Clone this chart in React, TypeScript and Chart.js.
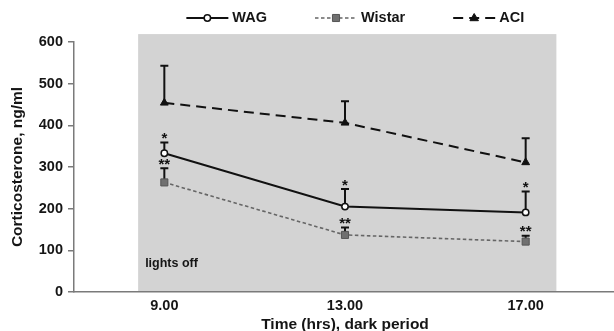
import React, { useEffect, useRef } from 'react';
import { Chart, registerables } from 'chart.js';

Chart.register(...registerables);

const categories = ['9.00', '13.00', '17.00'];
const seriesNames = ['WAG', 'Wistar', 'ACI'];
const wagValues = [333, 205, 191];
const wagErrors = [26, 42, 50];
const wagMarks = ['*', '*', '*'];
const wistarValues = [263, 137, 121];
const wistarErrors = [34, 18, 14];
const wistarMarks = ['**', '**', '**'];
const aciValues = [454, 406, 311];
const aciErrors = [89, 52, 58];
const aciMarks = ['', '', ''];
const yTicks = [0, 100, 200, 300, 400, 500, 600];
const xTitle = 'Time (hrs), dark period';
const yTitle = 'Corticosterone, ng/ml';
const shadeLabel = 'lights off';

const FONT = "'Liberation Sans', Arial, sans-serif";
const TEXT = '#151515';
const AXIS = '#7a7a7a';

const errorsBySeries = [wagErrors, wistarErrors, aciErrors];
const marksBySeries = [wagMarks, wistarMarks, aciMarks];

function drawMarker(ctx: CanvasRenderingContext2D, style: string, x: number, y: number, r: number, bg: string, border: string, bw: number) {
  ctx.save();
  ctx.setLineDash([]);
  ctx.fillStyle = bg;
  ctx.strokeStyle = border;
  ctx.lineWidth = bw;
  ctx.beginPath();
  if (style === 'circle') {
    ctx.arc(x, y, r, 0, Math.PI * 2);
  } else if (style === 'rect') {
    const s = r * Math.SQRT1_2;
    ctx.rect(x - s, y - s, 2 * s, 2 * s);
  } else if (style === 'triangle') {
    ctx.moveTo(x, y - r);
    ctx.lineTo(x + r * 0.95, y + r * 0.6);
    ctx.lineTo(x - r * 0.95, y + r * 0.6);
    ctx.closePath();
  }
  ctx.fill();
  if (bw > 0) ctx.stroke();
  ctx.restore();
}

const shadePlugin = {
  id: 'shade',
  beforeDraw(chart: any) {
    const { ctx, chartArea, scales } = chart;
    const x0 = scales.x.getPixelForValue(-0.145);
    const x1 = scales.x.getPixelForValue(2.17);
    const y0 = scales.y.getPixelForValue(619);
    ctx.save();
    ctx.fillStyle = '#d3d3d3';
    ctx.fillRect(x0, y0, x1 - x0, chartArea.bottom - y0);
    ctx.fillStyle = TEXT;
    ctx.font = `bold 12.5px ${FONT}`;
    ctx.textBaseline = 'middle';
    ctx.textAlign = 'left';
    ctx.fillText(shadeLabel, x0 + 7, chartArea.bottom - 28);
    ctx.restore();
  },
};

const errorPlugin = {
  id: 'errbars',
  beforeDatasetsDraw(chart: any) {
    const { ctx, scales } = chart;
    ctx.save();
    ctx.strokeStyle = '#111';
    ctx.lineWidth = 2;
    ctx.setLineDash([]);
    chart.data.datasets.forEach((ds: any, i: number) => {
      const meta = chart.getDatasetMeta(i);
      meta.data.forEach((pt: any, j: number) => {
        const top = scales.y.getPixelForValue(ds.data[j] + errorsBySeries[i][j]);
        ctx.beginPath();
        ctx.moveTo(pt.x, pt.y);
        ctx.lineTo(pt.x, top);
        ctx.moveTo(pt.x - 4, top);
        ctx.lineTo(pt.x + 4, top);
        ctx.stroke();
      });
    });
    ctx.restore();
  },
  afterDatasetsDraw(chart: any) {
    const { ctx, scales } = chart;
    ctx.save();
    ctx.fillStyle = '#111';
    ctx.font = `bold 15px ${FONT}`;
    ctx.textAlign = 'center';
    ctx.textBaseline = 'alphabetic';
    chart.data.datasets.forEach((ds: any, i: number) => {
      const meta = chart.getDatasetMeta(i);
      meta.data.forEach((pt: any, j: number) => {
        const mark = marksBySeries[i][j];
        if (!mark) return;
        const top = scales.y.getPixelForValue(ds.data[j] + errorsBySeries[i][j]);
        ctx.fillText(mark, pt.x, top + 0.5);
      });
    });
    ctx.restore();
  },
};

const legendPlugin = {
  id: 'customLegend',
  afterDraw(chart: any) {
    const { ctx, scales } = chart;
    ctx.save();
    ctx.font = `bold 14.5px ${FONT}`;
    ctx.textBaseline = 'middle';
    ctx.textAlign = 'left';
    const lineLen = 42;
    const gapText = 4;
    const gapItems = 48;
    const ds = chart.data.datasets;
    const widths = ds.map((d: any) => lineLen + gapText + ctx.measureText(d.label).width);
    const total = widths.reduce((a: number, b: number) => a + b, 0) + gapItems * (ds.length - 1);
    const cx = (scales.x.getPixelForValue(-0.145) + scales.x.getPixelForValue(2.17)) / 2 + 8;
    let x = cx - total / 2;
    const y = 18;
    ds.forEach((d: any, i: number) => {
      ctx.strokeStyle = d.borderColor;
      ctx.lineWidth = d.borderWidth;
      ctx.setLineDash(d.borderDash || []);
      ctx.beginPath();
      ctx.moveTo(x, y);
      ctx.lineTo(x + lineLen, y);
      ctx.stroke();
      ctx.setLineDash([]);
      drawMarker(ctx, d.pointStyle, x + lineLen / 2, y, d.pointRadius, d.pointBackgroundColor, d.pointBorderColor, d.pointBorderWidth);
      ctx.fillStyle = TEXT;
      ctx.fillText(d.label, x + lineLen + gapText, y);
      x += widths[i] + gapItems;
    });
    ctx.restore();
  },
};

export default function App() {
  const ref = useRef<HTMLCanvasElement | null>(null);
  useEffect(() => {
    if (!ref.current) return;
    const chart = new Chart(ref.current, {
      type: 'line',
      data: {
        labels: categories,
        datasets: [
          {
            label: seriesNames[0],
            data: wagValues,
            borderColor: '#111',
            borderWidth: 2,
            pointStyle: 'circle',
            pointRadius: 3.2,
            pointBackgroundColor: '#ffffff',
            pointBorderColor: '#111',
            pointBorderWidth: 1.5,
          },
          {
            label: seriesNames[1],
            data: wistarValues,
            borderColor: '#666',
            borderWidth: 1.6,
            borderDash: [3.5, 2.5],
            pointStyle: 'rect',
            pointRadius: 5,
            pointBackgroundColor: '#707070',
            pointBorderColor: '#555',
            pointBorderWidth: 1,
          },
          {
            label: seriesNames[2],
            data: aciValues,
            borderColor: '#111',
            borderWidth: 2,
            borderDash: [10, 6],
            pointStyle: 'triangle',
            pointRadius: 4.5,
            pointBackgroundColor: '#111',
            pointBorderColor: '#111',
            pointBorderWidth: 1,
          },
        ],
      } as any,
      options: {
        animation: false,
        responsive: false,
        maintainAspectRatio: false,
        devicePixelRatio: 1,
        layout: { padding: { top: 42, right: 0, left: 0, bottom: 0 } },
        plugins: { legend: { display: false }, tooltip: { enabled: false } },
        scales: {
          x: {
            type: 'category',
            offset: true,
            grid: { display: false, drawTicks: false },
            border: { display: true, color: AXIS, width: 1.5 },
            ticks: { color: TEXT, font: { family: FONT, weight: 'bold', size: 14.5 }, padding: 5 },
            title: { display: true, text: xTitle, color: TEXT, font: { family: FONT, weight: 'bold', size: 15.5 }, padding: { top: 0, bottom: -3 } },
            afterFit: (s: any) => { s.height = 39; s.paddingRight = 0; s.paddingLeft = 0; },
          },
          y: {
            min: 0,
            max: 600,
            afterBuildTicks: (s: any) => { s.ticks = yTicks.map((v) => ({ value: v })); },
            grid: { drawOnChartArea: false, drawTicks: true, tickLength: 6, color: AXIS, lineWidth: 1.5 },
            border: { display: true, color: AXIS, width: 1.5 },
            ticks: { color: TEXT, font: { family: FONT, weight: 'bold', size: 14.5 }, padding: 5 },
            title: { display: true, text: yTitle, color: TEXT, font: { family: FONT, weight: 'bold', size: 15.5 }, padding: { top: 8, bottom: 0 } },
            afterFit: (s: any) => { s.width = 74; },
          },
        },
      } as any,
      plugins: [shadePlugin, errorPlugin, legendPlugin],
    });
    return () => chart.destroy();
  }, []);
  return (
    <div style={{ position: 'fixed', left: 0, top: 0, width: 614, height: 331, background: '#fff', overflow: 'hidden' }}>
      <canvas ref={ref} width={622} height={331} style={{ display: 'block' }} />
    </div>
  );
}
